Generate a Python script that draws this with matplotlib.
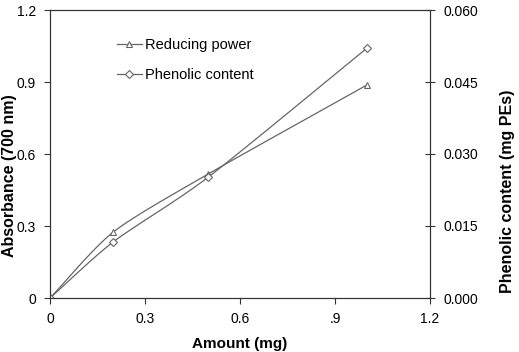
import numpy as np
import matplotlib
matplotlib.use("Agg")
import matplotlib.pyplot as plt
from matplotlib.lines import Line2D

plt.rcParams['font.family'] = ['Liberation Sans', 'DejaVu Sans']

amount = [0, 0.2, 0.5, 1.0]
reducing_power = [0, 0.275, 0.517, 0.887]
phenolic = [0, 0.0117, 0.0252, 0.0520]

xticks = [0, 0.3, 0.6, 0.9, 1.2]
xticklabels = ["0", "0.3", "0.6", ".9", "1.2"]
yticks_left = [0, 0.3, 0.6, 0.9, 1.2]
yticklabels_left = ["0", "0.3", "0.6", "0.9", "1.2"]
yticks_right = [0.000, 0.015, 0.030, 0.045, 0.060]
yticklabels_right = ["0.000", "0.015", "0.030", "0.045", "0.060"]


def smooth(x, y, k=8.0, n=30):
    x = np.asarray(x, float); y = np.asarray(y, float)
    px = np.concatenate([[2*x[0]-x[1]], x, [2*x[-1]-x[-2]]])
    py = np.concatenate([[2*y[0]-y[1]], y, [2*y[-1]-y[-2]]])
    xs, ys = [], []
    t = np.linspace(0, 1, n)
    for i in range(1, len(px) - 2):
        p0x, p1x, p2x, p3x = px[i-1], px[i], px[i+1], px[i+2]
        p0y, p1y, p2y, p3y = py[i-1], py[i], py[i+1], py[i+2]
        c1x = p1x + (p2x - p0x) / k; c1y = p1y + (p2y - p0y) / k
        c2x = p2x - (p3x - p1x) / k; c2y = p2y - (p3y - p1y) / k
        bx = (1-t)**3*p1x + 3*(1-t)**2*t*c1x + 3*(1-t)*t**2*c2x + t**3*p2x
        by = (1-t)**3*p1y + 3*(1-t)**2*t*c1y + 3*(1-t)*t**2*c2y + t**3*p2y
        xs.extend(bx); ys.extend(by)
    return np.array(xs), np.array(ys)


fig = plt.figure(figsize=(5.19, 3.52), dpi=100)
ax = fig.add_axes([50/519, 1 - 298/352, 380/519, 288/352])
ax2 = ax.twinx()

col = '#666666'
sx, sy = smooth(amount, reducing_power)
ax.plot(sx, sy, color=col, lw=0.9)
ax.plot(amount, reducing_power, ls='none', marker='^', ms=5, mfc='white', mec=col, mew=0.8)

px_, py_ = smooth(amount, phenolic)
ax2.plot(px_, py_, color=col, lw=0.9)
ax2.plot(amount, phenolic, ls='none', marker='D', ms=4, mfc='white', mec=col, mew=0.8)

ax.set_xlim(0, 1.2)
ax.set_ylim(0, 1.2)
ax2.set_ylim(0, 0.060)

ax.set_xticks(xticks)
ax.set_xticklabels(xticklabels, fontsize=10)
ax.set_yticks(yticks_left)
ax.set_yticklabels(yticklabels_left, fontsize=10)
ax2.set_yticks(yticks_right)
ax2.set_yticklabels(yticklabels_right, fontsize=10)

for a in (ax, ax2):
    for s in a.spines.values():
        s.set_color('#333333'); s.set_linewidth(0.8)
ax.tick_params(axis='both', direction='out', length=4, width=0.8, color='#333333', pad=6)
ax2.tick_params(axis='y', direction='inout', length=7, width=0.8, color='#333333', pad=6)

ax.set_xlabel('Amount (mg)', fontsize=11, fontweight='bold', labelpad=8)
ax.set_ylabel('Absorbance (700 nm)', fontsize=11.5, fontweight='bold')
ax.yaxis.set_label_coords(-0.087, 0.424)
ax2.set_ylabel('Phenolic content (mg PEs)', fontsize=11.5, fontweight='bold')
ax2.yaxis.set_label_coords(1.184, 0.372)

h1 = Line2D([0], [0], color=col, lw=0.9, marker='^', ms=5, mfc='white', mec=col, mew=0.8)
h2 = Line2D([0], [0], color=col, lw=0.9, marker='D', ms=4, mfc='white', mec=col, mew=0.8)
ax.legend([h1, h2], ['Reducing power', 'Phenolic content'], loc='upper left',
          bbox_to_anchor=(0.161, 0.924), frameon=False, fontsize=10.5,
          handlelength=1.7, handletextpad=0.25, labelspacing=1.1, borderaxespad=0)

fig.savefig('out.png', dpi=100)
